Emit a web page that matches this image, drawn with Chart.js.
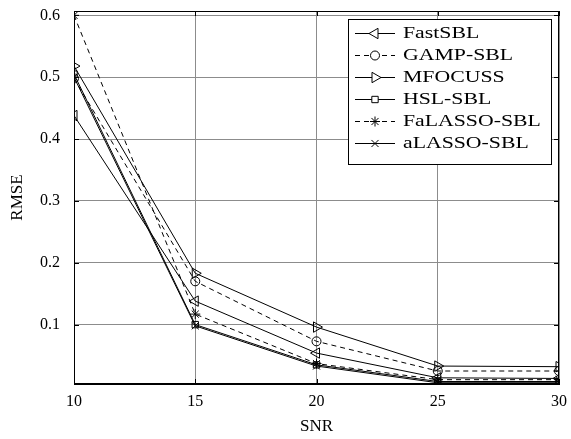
<!DOCTYPE html>
<html>
<head>
<meta charset="utf-8">
<script src="https://cdn.jsdelivr.net/npm/chart.js@4/dist/chart.umd.min.js"></script>
<style>
  html, body { margin: 0; padding: 0; background: #fff; }
  #wrap { width: 571px; height: 439px; }
</style>
</head>
<body>
<div id="wrap"><canvas id="rmse"></canvas></div>
<script>
// ── Data ──────────────────────────────────────────────
const snr = [10, 15, 20, 25, 30];
const xTicks = [10, 15, 20, 25, 30];
const yTicks = [0.1, 0.2, 0.3, 0.4, 0.5, 0.6];

const fastSBL    = [0.438, 0.138, 0.054, 0.014, 0.013];
const gampSBL    = [0.498, 0.170, 0.073, 0.025, 0.025];
const mfocuss    = [0.518, 0.183, 0.096, 0.033, 0.032];
const hslSBL     = [0.505, 0.100, 0.035, 0.008, 0.008];
const falassoSBL = [0.600, 0.117, 0.037, 0.011, 0.011];
const alassoSBL  = [0.500, 0.098, 0.033, 0.006, 0.006];

const SERIF = '"Liberation Serif", "DejaVu Serif", serif';
const DASH = [5, 4];

function pts(vals) {
  return snr.map((x, i) => ({ x, y: vals[i] }));
}

function series(label, vals, style, opts = {}) {
  return {
    label,
    data: pts(vals),
    borderColor: '#000',
    borderWidth: 1,
    borderDash: opts.dash || [],
    pointStyle: style,
    pointRotation: opts.rot || 0,
    pointRadius: opts.r || 5,
    pointBorderWidth: 1,
    pointBorderColor: '#000',
    pointBackgroundColor: 'rgba(0,0,0,0)',
    tension: 0,
    fill: false,
  };
}

const datasets = [
  series('FastSBL',     fastSBL,    'triangle', { rot: -90, r: 6 }),
  series('GAMP-SBL',    gampSBL,    'circle',   { dash: DASH, r: 4.5 }),
  series('MFOCUSS',     mfocuss,    'triangle', { rot: 90, r: 6 }),
  series('HSL-SBL',     hslSBL,     'rect',     { r: 4.5 }),
  series('FaLASSO-SBL', falassoSBL, 'star',     { dash: DASH, r: 5 }),
  series('aLASSO-SBL',  alassoSBL,  'crossRot', { r: 5 }),
];

// ── Frame, inward ticks and boxed legend ──────────────
const framePlugin = {
  id: 'frame',
  afterDatasetsDraw(chart) {
    const { ctx, chartArea: a, scales } = chart;
    ctx.save();
    ctx.strokeStyle = '#000';
    ctx.lineWidth = 1;
    ctx.setLineDash([]);
    ctx.strokeRect(a.left + 0.5, a.top + 0.5, a.right - a.left - 1, a.bottom - a.top - 1);
    const tl = 5;
    ctx.beginPath();
    xTicks.forEach(v => {
      const x = Math.round(scales.x.getPixelForValue(v)) + 0.5;
      ctx.moveTo(x, a.bottom); ctx.lineTo(x, a.bottom - tl);
      ctx.moveTo(x, a.top);    ctx.lineTo(x, a.top + tl);
    });
    yTicks.forEach(v => {
      const y = Math.round(scales.y.getPixelForValue(v)) + 0.5;
      ctx.moveTo(a.left, y);  ctx.lineTo(a.left + tl, y);
      ctx.moveTo(a.right, y); ctx.lineTo(a.right - tl, y);
    });
    ctx.stroke();

    // legend box
    const bx = 348.5, by = 19.5, bw = 203, bh = 145;
    ctx.fillStyle = '#fff';
    ctx.fillRect(bx, by, bw, bh);
    ctx.strokeRect(bx, by, bw, bh);
    ctx.font = '17px ' + SERIF;
    ctx.textBaseline = 'middle';
    chart.data.datasets.forEach((ds, i) => {
      const y = 33 + i * 22;
      ctx.strokeStyle = '#000';
      ctx.setLineDash(ds.borderDash);
      ctx.beginPath();
      ctx.moveTo(355, y + 0.5); ctx.lineTo(395, y + 0.5);
      ctx.stroke();
      ctx.setLineDash([]);
      ctx.fillStyle = '#fff';
      Chart.helpers.drawPoint(ctx, {
        pointStyle: ds.pointStyle,
        rotation: ds.pointRotation,
        radius: ds.pointRadius,
        borderWidth: 1,
      }, 375, y + 0.5);
      // labels are set a little wide
      ctx.fillStyle = '#000';
      ctx.save();
      ctx.translate(403, y + 1);
      ctx.scale(1.28, 1);
      ctx.fillText(ds.label, 0, 0);
      ctx.restore();
    });
    ctx.restore();
  }
};

new Chart(document.getElementById('rmse'), {
  type: 'line',
  data: { datasets },
  plugins: [framePlugin],
  options: {
    responsive: true,
    maintainAspectRatio: false,
    animation: false,
    layout: { padding: { top: 11, right: 12, left: 0, bottom: 0 } },
    plugins: {
      legend: { display: false },
      tooltip: { enabled: false },
    },
    scales: {
      x: {
        type: 'linear',
        min: 10, max: 30,
        afterFit: s => { s.height = 55; s.paddingLeft = 0; s.paddingRight = 0; },
        afterBuildTicks: s => { s.ticks = xTicks.map(v => ({ value: v })); },
        grid: { color: '#8c8c8c', lineWidth: 1, drawTicks: false },
        border: { color: '#000' },
        ticks: { color: '#000', padding: 8, font: { family: SERIF, size: 16 }, maxRotation: 0 },
        title: { display: true, text: 'SNR', color: '#000', font: { family: SERIF, size: 17 }, padding: { top: 0, bottom: 2 } },
      },
      y: {
        min: 0.004, max: 0.607,
        afterFit: s => { s.width = 74; s.paddingTop = 0; s.paddingBottom = 0; },
        afterBuildTicks: s => { s.ticks = yTicks.map(v => ({ value: v })); },
        grid: { color: '#8c8c8c', lineWidth: 1, drawTicks: false },
        border: { color: '#000' },
        ticks: { color: '#000', padding: 14, font: { family: SERIF, size: 16 }, callback: v => v.toFixed(1) },
        title: { display: true, text: 'RMSE', color: '#000', font: { family: SERIF, size: 17 }, padding: { top: 7, bottom: 0 } },
      },
    },
  },
});
</script>
</body>
</html>
